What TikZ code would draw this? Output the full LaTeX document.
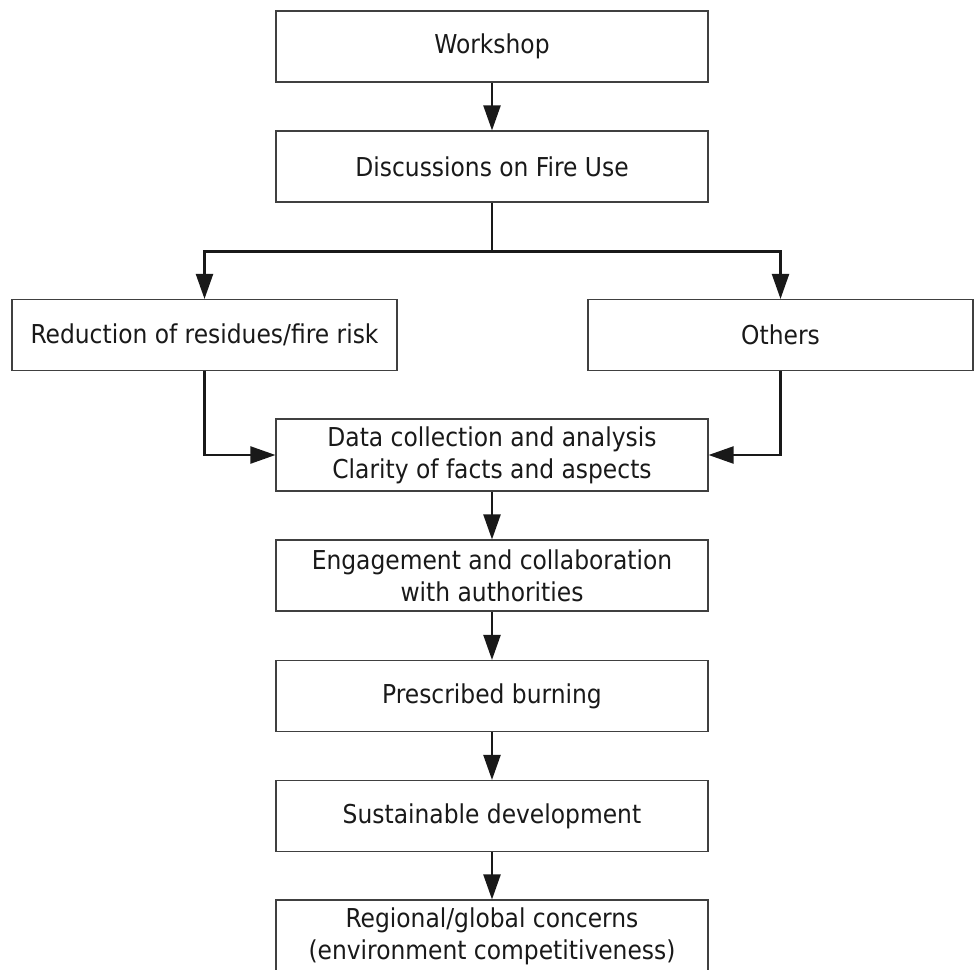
\documentclass[tikz,border=0pt]{standalone}
\usepackage{fontspec}
\setmainfont{DejaVu Sans Condensed}
\usetikzlibrary{arrows.meta}
\begin{document}
\begin{tikzpicture}[x=1pt,y=-1pt,
  box/.style={draw=black!75, line width=1.1pt, minimum width=432pt, minimum height=71pt, inner sep=0pt, align=center, font=\fontsize{26}{32}\selectfont, text=black!90},
  sidebox/.style={box, minimum width=385pt},
  conn/.style={line width=2.2pt, draw=black!90, -{Triangle[length=25pt,width=17pt]}}]
\useasboundingbox (0,0) rectangle (976,969);
\clip (0,0) rectangle (976,969);
\node[box] (w) at (492,46.5) {Workshop};
\node[box] (d) at (492,166.5) {Discussions on Fire Use};
\node[sidebox] (r) at (204.5,335) {Reduction of residues/fire risk};
\node[sidebox] (o) at (780.5,335) {Others};
\node[box, minimum height=72pt] (dc) at (492,455) {Data collection and analysis\\Clarity of facts and aspects};
\node[box] (e) at (492,575.5) {Engagement and collaboration\\with authorities};
\node[box] (p) at (492,696) {Prescribed burning};
\node[box] (s) at (492,816) {Sustainable development};
\node[box, minimum height=72pt] (g) at (492,936) {Regional/global concerns\\(environment competitiveness)};
\coordinate (split) at (492,251.5);
\draw[conn] (w) -- (d);
\draw[line width=2.2pt, draw=black!90] (d.south) -- (split);
\draw[conn] (split) -| (r.north);
\draw[conn] (split) -| (o.north);
\draw[conn] (r.south) |- (dc.west);
\draw[conn] (o.south) |- (dc.east);
\draw[conn] (dc) -- (e);
\draw[conn] (e) -- (p);
\draw[conn] (p) -- (s);
\draw[conn] (s) -- (g);
\end{tikzpicture}
\end{document}
